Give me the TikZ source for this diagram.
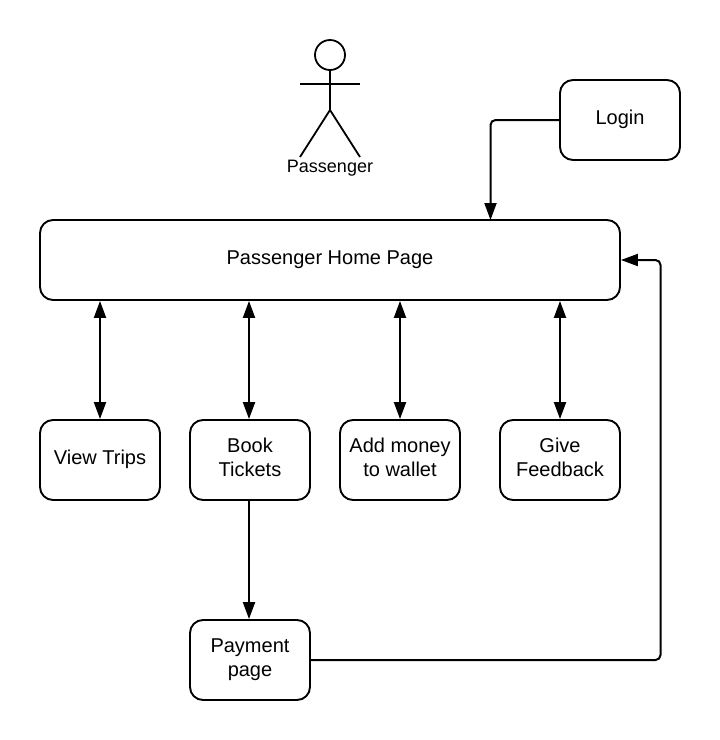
\documentclass[tikz,border=0pt]{standalone}
\usepackage{fontspec}
\setmainfont{Liberation Sans}
\usetikzlibrary{arrows.meta}
\newcommand{\lastpad}{\rule[-5.5pt]{0pt}{5.5pt}}
\begin{document}
\begin{tikzpicture}[x=1pt,y=-1pt,
 box/.style={draw=black,line width=1.9pt,rounded corners=13pt,inner sep=0pt,align=center,minimum width=120pt,minimum height=80pt,font=\fontsize{20pt}{24pt}\selectfont},
 conn/.style={draw=black,line width=2pt,rounded corners=5pt,-{Triangle[length=17pt,width=12pt]}},
 both/.style={draw=black,line width=2pt,{Triangle[length=17pt,width=12pt]}-{Triangle[length=17pt,width=12pt]}},
 actor/.style={draw=black,line width=1.8pt}]
\useasboundingbox (0,0) rectangle (720,740);
\fill[white] (0,0) rectangle (720,740);
\node[box] (login) at (620,120) {Login\lastpad};
\node[box,minimum width=580pt] (home) at (330,260) {Passenger Home Page\lastpad};
\node[box] (view) at (100,460) {View Trips\lastpad};
\node[box] (book) at (250,460) {Book\\Tickets\lastpad};
\node[box] (wallet) at (400,460) {Add money\\to wallet\lastpad};
\node[box] (feedback) at (560,460) {Give\\Feedback\lastpad};
\node[box] (pay) at (250,660) {Payment\\page\lastpad};
% actor
\node[circle,draw=black,line width=1.8pt,minimum size=30pt,inner sep=0pt] (head) at (330,55) {};
\coordinate (hip) at (330,110);
\coordinate (armL) at (300,84);
\coordinate (armR) at (360,84);
\coordinate (footL) at (300,157);
\coordinate (footR) at (360,157);
\draw[actor] (head.south) -- (hip);
\draw[actor] (armL) -- (armR);
\draw[actor] (footL) -- (hip) -- (footR);
\node[font=\fontsize{18pt}{20pt}\selectfont,inner sep=0pt] (plabel) at (330,168) {Passenger};
% connectors
\coordinate (homeTop) at (490.5,220);
\draw[conn] (login.west) -- (490.5,120) -- (homeTop);
\draw[both] (home.south -| view.north) -- (view.north);
\draw[both] ([xshift=-1pt]home.south -| book.north) -- ([xshift=-1pt]book.north);
\draw[both] (home.south -| wallet.north) -- (wallet.north);
\draw[both] (home.south -| feedback.north) -- (feedback.north);
\draw[conn] ([xshift=-1pt]book.south) -- ([xshift=-1pt]pay.north);
\draw[conn] (pay.east) -- (660.5,660) -- (660.5,260) -- (home.east);
\end{tikzpicture}
\end{document}
